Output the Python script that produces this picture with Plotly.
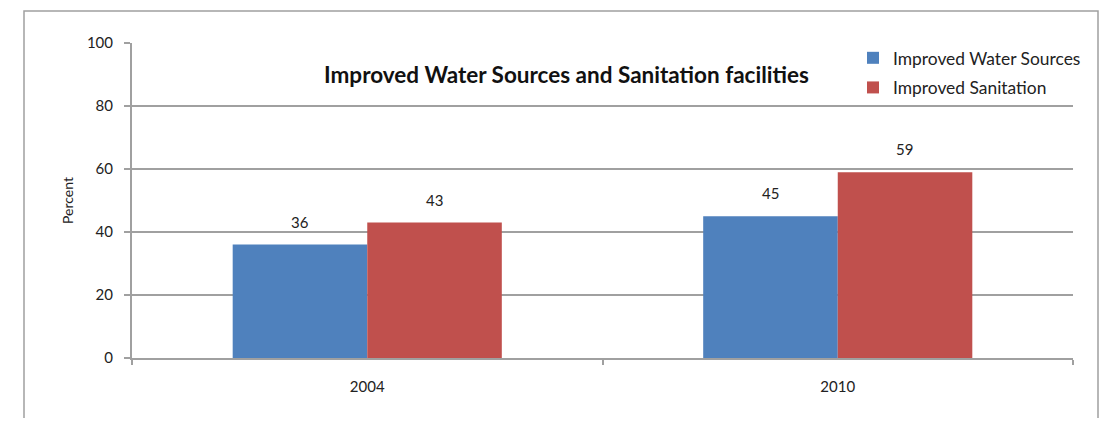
import plotly.graph_objects as go

# --- data ---------------------------------------------------------------------
years = ["2004", "2010"]
water = [36, 45]
sanitation = [43, 59]
y_ticks = [0, 20, 40, 60, 80, 100]

BLUE = "#4F81BD"
RED = "#C0504D"
GRID = "#A0A0A0"
FONT = "Lato, Calibri, Carlito, sans-serif"

# page body has an 8px margin, so the figure is laid out 16px smaller / offset
W, H = 1100, 410
L, T, R_EDGE, B_EDGE = 124, 35, 1065, 350
PW, PH = R_EDGE - L, B_EDGE - T

fig = go.Figure()
fig.add_trace(go.Bar(x=years, y=water, name="Improved Water Sources",
                     legendgroup="w", marker=dict(color=BLUE, line=dict(width=0))))
fig.add_trace(go.Bar(x=years, y=sanitation, name="Improved Sanitation",
                     legendgroup="s", marker=dict(color=RED, line=dict(width=0))))

# value labels above bars (category index used as x position)
for vals, shift in ((water, -67), (sanitation, 67)):
    for i, v in enumerate(vals):
        fig.add_annotation(x=i, y=v, text=str(v), showarrow=False,
                           xshift=shift, yanchor="bottom", yshift=12,
                           font=dict(size=15, color="#222222", family=FONT))

fig.add_annotation(x=(558 - L) / PW, y=1 - (66 - T) / PH, xref="paper", yref="paper",
                   xanchor="center", yanchor="middle",
                   text="<b>Improved Water Sources and Sanitation facilities</b>",
                   showarrow=False, font=dict(size=22.5, color="#111111", family=FONT))

# outer chart border
fig.add_shape(type="rect", xref="paper", yref="paper",
              x0=(16 - L) / PW, x1=(1090 - L) / PW,
              y0=-0.3, y1=1 + (T - 3) / PH,
              line=dict(color=GRID, width=1.5), layer="below")

fig.update_layout(
    width=W, height=H,
    margin=dict(l=L, r=W - R_EDGE, t=T, b=H - B_EDGE, autoexpand=False),
    plot_bgcolor="white", paper_bgcolor="white",
    barmode="group", bargap=0.428, bargroupgap=0,
    font=dict(family=FONT, size=15, color="#222222"),
    showlegend=True,
    legend=dict(x=(845 - L) / PW, y=1 - (32 - T) / PH, xanchor="left", yanchor="top",
                bgcolor="rgba(0,0,0,0)", font=dict(size=17.4),
                itemwidth=30, tracegroupgap=4),
)
fig.update_xaxes(type="category", range=[-0.5, 1.5], tickson="boundaries",
                 ticks="outside", ticklen=5, tickwidth=2, tickcolor=GRID,
                 showline=True, linecolor=GRID, linewidth=2,
                 showgrid=False, tickfont=dict(size=15), ticklabelstandoff=14)
fig.update_yaxes(range=[0, 100], tickvals=y_ticks, ticks="outside",
                 ticklen=6, tickwidth=2, tickcolor=GRID,
                 showline=True, linecolor=GRID, linewidth=2,
                 gridcolor=GRID, gridwidth=2, zeroline=False,
                 ticklabelstandoff=8,
                 title=dict(text="Percent", standoff=10, font=dict(size=14)))

fig.write_html("out.html")
